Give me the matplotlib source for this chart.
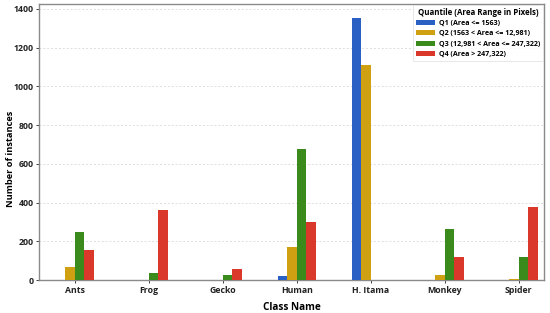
import numpy as np
import matplotlib
matplotlib.use("Agg")
import matplotlib.pyplot as plt

# --------------------------
# Daten
# --------------------------
classes = ["Ants", "Frog", "Gecko", "Human", "H. Itama", "Monkey", "Spider"]
quantile_labels = [
    "Q1 (Area <= 1563)",
    "Q2 (1563 < Area <= 12,981)",
    "Q3 (12,981 < Area <= 247,322)",
    "Q4 (Area > 247,322)",
]
q1 = [0, 0, 0, 22, 1352, 0, 0]
q2 = [66, 0, 0, 169, 1110, 28, 5]
q3 = [248, 38, 27, 675, 0, 262, 121]
q4 = [155, 362, 55, 301, 0, 121, 376]

colors = ["#2a5fc4", "#cfa012", "#3a8a1c", "#d9382a"]

plt.rcParams["font.family"] = ["Open Sans", "DejaVu Sans"]

fig = plt.figure(figsize=(5.5, 3.13), dpi=100)
ax = fig.add_axes([0.0715, 0.105, 0.9175, 0.882])

x = np.arange(len(classes))
width = 0.13
for i, (vals, col, lab) in enumerate(zip([q1, q2, q3, q4], colors, quantile_labels)):
    ax.bar(x + (i - 1.5) * width, vals, width, color=col, label=lab, zorder=3)

ax.set_xlim(-0.48, 6.34)
ax.set_ylim(0, 1425)
ax.set_yticks(range(0, 1401, 200))
ax.set_xticks(x)
ax.set_xticklabels(classes, fontsize=6.3, fontweight="bold")
for t in ax.get_yticklabels():
    t.set_fontsize(6.3)
    t.set_fontweight("bold")
ax.tick_params(axis="both", length=2, width=0.6, pad=2, colors="#222222")

ax.yaxis.grid(True, linestyle=(0, (2, 2)), color="#dddddd", linewidth=0.7, zorder=0)
for s in ax.spines.values():
    s.set_color("#8a8a8a")
    s.set_linewidth(1.0)

ax.set_xlabel("Class Name", fontsize=7.2, fontweight="bold")
ax.set_ylabel("Number of instances", fontsize=6.7, fontweight="bold")
ax.xaxis.set_label_coords(0.5, -0.078)
ax.yaxis.set_label_coords(-0.049, 0.44)

leg = ax.legend(title="Quantile (Area Range in Pixels)", loc="upper right",
                fontsize=5.1, title_fontsize=5.7, frameon=True, fancybox=False,
                borderpad=0.4, labelspacing=0.45, handlelength=2.6, handleheight=0.7,
                handletextpad=0.6, borderaxespad=0.15)
leg.get_title().set_fontweight("bold")
for t in leg.get_texts():
    t.set_fontweight("bold")
leg.get_frame().set_edgecolor("#dddddd")
leg.get_frame().set_linewidth(0.6)

fig.savefig("out.png", dpi=100)
